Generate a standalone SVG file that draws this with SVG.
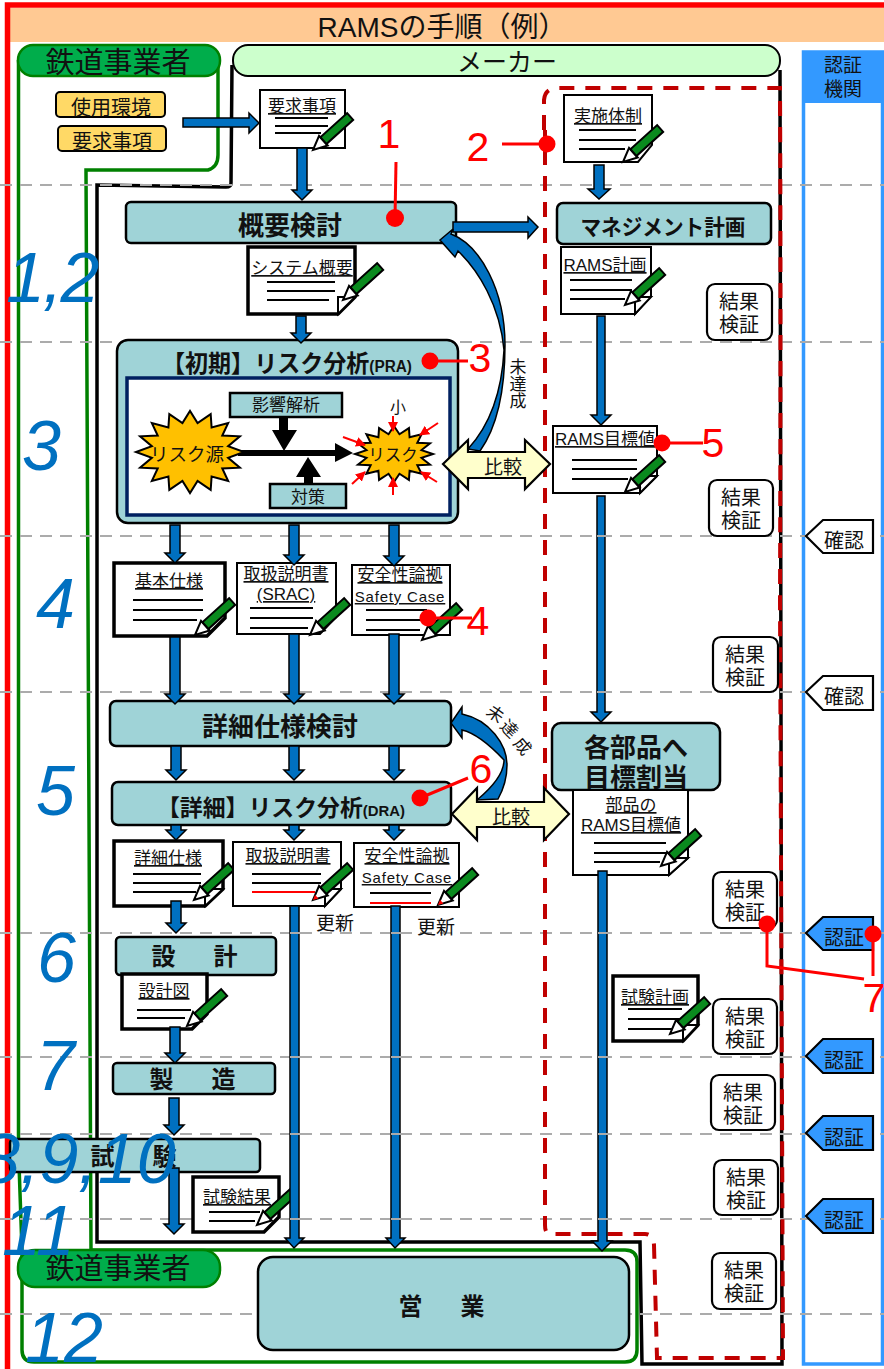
<svg xmlns="http://www.w3.org/2000/svg" width="884" height="1369" viewBox="0 0 884 1369">
<style>
text{font-family:"Liberation Sans","Noto Sans CJK JP",sans-serif;fill:#111;text-anchor:middle}
.box{fill:#9FD3D7;stroke:#000;stroke-width:2.5}
.doc{fill:#fff;stroke:#000;stroke-width:2}
.thick{stroke-width:3.5}
.ln{stroke:#000;stroke-width:1.8;fill:none}
.rl{stroke:#f00;stroke-width:2;fill:none}
.dt{font-size:17px;text-decoration:underline}
.sc{font-size:15px;letter-spacing:.8px}
.ar{fill:#0070C0;stroke:#000;stroke-width:1.5}
.b{font-weight:bold}
.res{fill:#fff;stroke:#000;stroke-width:2.2}
.rt{font-size:20px}
.tag{stroke:#000;stroke-width:2.2;fill:#fff}
.tagb{stroke:#000;stroke-width:2.2;fill:#3399FF}
.num{font-style:italic;fill:#0070C0;font-size:70px;text-anchor:start}
.red{fill:#f00;font-size:41px}
.redl{stroke:#f00;stroke-width:3;fill:none}
.cmp{fill:#FFFFCC;stroke:#000;stroke-width:2.2}
.star{fill:#FFC000;stroke:#000;stroke-width:2;vector-effect:non-scaling-stroke}
</style>
<defs>
<g id="pen"><polygon points="0,0 14,-6.500 14,6.500" fill="#fff" stroke="#000" stroke-width="2"/><rect x="14" y="-4.500" width="36" height="9" fill="#0A8A1E" stroke="#000" stroke-width="2"/></g>
<g id="penr"><polygon points="0,0 14,-6.500 14,6.500" fill="#fff" stroke="#000" stroke-width="2"/><polygon points="0,0 5,-2.500 5,2.500" fill="#f00"/><rect x="14" y="-4.500" width="36" height="9" fill="#0A8A1E" stroke="#000" stroke-width="2"/></g>
<marker id="rh" viewBox="0 0 10 10" refX="9" refY="5" markerWidth="5" markerHeight="5" orient="auto"><path d="M0 0L10 5L0 10Z" fill="#f00"/></marker>
<polygon id="st" class="star" points="1,0 .706,.14 .924,.383 .598,.4 .707,.707 .4,.598 .383,.924 .14,.706 0,1 -.14,.706 -.383,.924 -.4,.598 -.707,.707 -.598,.4 -.924,.383 -.706,.14 -1,0 -.706,-.14 -.924,-.383 -.598,-.4 -.707,-.707 -.4,-.598 -.383,-.924 -.14,-.706 0,-1 .14,-.706 .383,-.924 .4,-.598 .707,-.707 .598,-.4 .924,-.383 .706,-.14"/>
</defs>
<rect width="884" height="1369" fill="#fff"/>
<g id="frames">
<rect x="10" y="8" width="874" height="34" fill="#FFC993"/>
<path d="M7.5 1369V5H884" fill="none" stroke="#f00" stroke-width="5.5"/>
<text x="442" y="37" font-size="28px">RAMSの手順（例）</text>
<path d="M18.500 60V1150L22 1250V1350Q22 1362 34 1362H625Q637 1362 637 1350V1262Q637 1250 625 1250H91L86 170H208Q218 167 218 155V60" fill="none" stroke="#008000" stroke-width="3.500"/>
<path d="M232 65L231 183Q231 187 226 187L97 185V1242H640L642 1364H782L780 70" fill="none" stroke="#000" stroke-width="3.500"/>
<rect x="803.500" y="52" width="79" height="1312" fill="#fff" stroke="#3399FF" stroke-width="3.500"/>
<rect x="802" y="51" width="82" height="52" fill="#3399FF"/>
<text x="843" y="72" font-size="19px">認証</text><text x="843" y="96" font-size="19px">機関</text>
</g>
<g id="guides" fill="none" stroke="#ABABAB" stroke-width="2" stroke-dasharray="12 8">
<path d="M0 185H884M0 342H884M0 536H884M0 692H884M0 933H884M0 1057H884M0 1134H884M0 1219H884M0 1314H884"/>
</g>
<path id="dash-frame" d="M544 130V100Q545 88 558 88H780Q781 300 780 600L783 1358H657L654 1245Q653 1234 645 1234H550Q545 1234 545 1225V130" fill="none" stroke="#C00000" stroke-width="4" stroke-dasharray="15 11"/>

<g id="n-op-rail"><rect x="18" y="45" width="202" height="31" rx="15" fill="#00AD4B" stroke="#008000" stroke-width="2.500"/><text x="118" y="73" font-size="29px">鉄道事業者</text></g>
<g id="n-maker"><rect x="233" y="45" width="547" height="31" rx="15" fill="#CCFFCC" stroke="#000" stroke-width="2"/><text x="507" y="71" font-size="25px">メーカー</text></g>
<g id="n-env"><rect x="56" y="92" width="109" height="25" rx="4" fill="#FFD966" stroke="#000" stroke-width="2"/><text x="111" y="115" font-size="20px">使用環境</text></g>
<g id="n-req"><rect x="58" y="126" width="108" height="25" rx="4" fill="#FFD966" stroke="#000" stroke-width="2"/><text x="112" y="149" font-size="20px">要求事項</text></g>

<g id="n-overview"><rect class="box" x="126" y="202" width="330" height="41" rx="5"/><text class="b" x="290" y="235" font-size="26px">概要検討</text></g>
<g id="n-mgmt"><rect class="box" x="557" y="203" width="214" height="41" rx="6"/><text class="b" x="663" y="235" font-size="22px" textLength="165" lengthAdjust="spacingAndGlyphs">マネジメント計画</text></g>
<g id="n-pra"><rect class="box" x="117" y="340" width="341" height="183" rx="11"/>
<text class="b" x="287" y="372" font-size="24px" textLength="250" lengthAdjust="spacingAndGlyphs">【初期】リスク分析<tspan font-size="16px">(PRA)</tspan></text>
<rect x="127" y="378" width="323" height="137" fill="#fff" stroke="#002060" stroke-width="3.500"/>
<rect class="box" x="230" y="393" width="112" height="24"/><text x="286" y="411" font-size="17px">影響解析</text>
<rect class="box" x="270" y="484" width="76" height="24"/><text x="308" y="503" font-size="17px">対策</text>
<polygon points="279,417 288,417 288,430 297,430 284,451 272,430 279,430" fill="#000"/>
<polygon points="304,484 313,484 313,477 321,477 308,457 296,477 304,477" fill="#000"/>
<polygon points="238,450 335,450 335,443 353,453 335,462 335,456 238,456" fill="#000"/>
<use href="#st" transform="translate(190 452) scale(54 41)"/>
<use href="#st" transform="translate(394 454) scale(39 28)"/>
<text x="187" y="461" font-size="18.500px">リスク源</text><text x="393" y="461" font-size="16.500px">リスク</text>
<text x="398" y="413" font-size="16px">小</text>
<g class="rl"><path d="M393 416V431" marker-end="url(#rh)"/><path d="M438 423L420 435" marker-end="url(#rh)"/><path d="M343 437L365 445" marker-end="url(#rh)"/><path d="M352 484L365 472" marker-end="url(#rh)"/><path d="M393 495V478" marker-end="url(#rh)"/><path d="M437 482L421 472" marker-end="url(#rh)"/></g>
</g>
<g id="n-detail-spec"><rect class="box" x="110" y="701" width="341" height="45" rx="6"/><text class="b" x="280" y="736" font-size="26px">詳細仕様検討</text></g>
<g id="n-dra"><rect class="box" x="112" y="782" width="339" height="43" rx="6"/><text class="b" x="281" y="816" font-size="23px" textLength="248" lengthAdjust="spacingAndGlyphs">【詳細】リスク分析<tspan font-size="15px">(DRA)</tspan></text></g>
<g id="n-alloc"><rect class="box" x="552" y="723" width="168" height="67" rx="9"/><text class="b" x="636" y="757" font-size="26px">各部品へ</text><text class="b" x="636" y="787" font-size="26px">目標割当</text></g>
<g id="n-design"><rect class="box" x="116" y="937" width="160" height="38" rx="4"/><text class="b" x="198" y="965" font-size="24px" letter-spacing="7">設　計</text></g>
<g id="n-mfg"><rect class="box" x="113" y="1063" width="162" height="31" rx="4"/><text class="b" x="196" y="1088" font-size="24px" letter-spacing="7">製　造</text></g>
<g id="n-test"><rect class="box" x="10" y="1139" width="250" height="33" rx="4"/><text class="b" x="137" y="1165" font-size="24px" letter-spacing="7">試　験</text></g>
<g id="n-op2"><rect x="18" y="1250" width="202" height="37" rx="17" fill="#00AD4B" stroke="#008000" stroke-width="2.500"/><text x="118" y="1279" font-size="29px">鉄道事業者</text></g>
<g id="n-service"><rect class="box" x="258" y="1257" width="371" height="93" rx="15"/><text class="b" x="445" y="1315" font-size="24px" letter-spacing="7">営　業</text></g>

<g id="d-req"><path class="doc" d="M260 90H345V148H260Z"/><text class="dt" x="302" y="112">要求事項</text><path class="ln" d="M275 118H328M275 126H328M275 133H321"/><use href="#pen" transform="translate(313 150) rotate(-42)"/></g>
<g id="d-org"><path class="doc" d="M564 95H652V145L638 162H564Z"/><text class="dt" x="608" y="122">実施体制</text><path class="ln" d="M579 130H636M579 140H636M579 149H625"/><use href="#pen" transform="translate(623 162) rotate(-42)"/></g>
<g id="d-sys"><path class="doc thick" d="M248 247H355V297L338 314H248Z"/><path class="doc" d="M338 314V297H355Z"/><text class="dt" x="302" y="274">システム概要</text><path class="ln" d="M267 282H335M267 291H335M267 300H329"/><use href="#pen" transform="translate(343 300) rotate(-42)"/></g>
<g id="d-plan"><path class="doc" d="M561 247H651V296L635 314H561Z"/><path class="doc" d="M635 314V297H651Z"/><text class="dt" x="605" y="271">RAMS計画</text><path class="ln" d="M570 280H632M570 290H632M570 299H625"/><use href="#pen" transform="translate(625 305) rotate(-42)"/></g>
<g id="d-target"><path class="doc" d="M553 426H657V476L640 493H553Z"/><path class="doc" d="M640 493V476H657Z"/><text class="dt" x="605" y="445">RAMS目標値</text><path class="ln" d="M572 460H637M572 469H637M572 479H628"/><use href="#pen" transform="translate(625 492) rotate(-42)"/></g>
<g id="d-basic"><path class="doc thick" d="M114 563H225V618L207 636H114Z"/><text class="dt" x="169" y="587">基本仕様</text><path class="ln" d="M133 600H203M133 610H203M133 620H197"/><use href="#pen" transform="translate(195 635) rotate(-42)"/></g>
<g id="d-manual"><path class="doc" d="M237 563H336V617L320 634H237Z"/><text class="dt" x="286" y="580">取扱説明書</text><text class="dt" x="286" y="600">(SRAC)</text><path class="ln" d="M250 608H313M250 618H313M250 628H308"/><use href="#pen" transform="translate(310 635) rotate(-42)"/></g>
<g id="d-safety"><path class="doc" d="M352 565H450V635H352Z"/><text class="dt" x="400" y="581">安全性論拠</text><text class="dt sc" x="400" y="602">Safety Case</text><path class="ln" d="M366 610H427M366 620H427M366 630H420"/><use href="#pen" transform="translate(422 640) rotate(-42)"/></g>
<g id="d-dspec"><path class="doc thick" d="M114 841H223V889L205 906H114Z"/><path class="doc" d="M205 906V889H223Z"/><text class="dt" x="168" y="864">詳細仕様</text><path class="ln" d="M133 874H201M133 883H201M133 892H196"/><use href="#pen" transform="translate(194 900) rotate(-42)"/></g>
<g id="d-dmanual"><path class="doc" d="M233 842H341V889L325 906H233Z"/><path class="doc" d="M325 906V889H341Z"/><text class="dt" x="288" y="862">取扱説明書</text><path class="ln" d="M252 874H321M252 883H321"/><path class="rl" d="M252 892H315"/><use href="#penr" transform="translate(313 900) rotate(-42)"/></g>
<g id="d-dsafety"><path class="doc" d="M354 843H459V907H354Z"/><text class="dt" x="407" y="862">安全性論拠</text><text class="dt sc" x="407" y="883">Safety Case</text><path class="ln" d="M370 893H431"/><path class="rl" d="M370 903H431"/><use href="#penr" transform="translate(438 905) rotate(-42)"/></g>
<g id="d-part"><path class="doc" d="M573 790H688V858L669 875H573Z"/><path class="doc" d="M669 875V858H688Z"/><text class="dt" x="631" y="811">部品の</text><text class="dt" x="631" y="831">RAMS目標値</text><path class="ln" d="M594 843H666M594 853H666M594 862H660"/><use href="#pen" transform="translate(661 866) rotate(-42)"/></g>
<g id="d-testplan"><path class="doc thick" d="M613 976H698V1025L683 1041H613Z"/><path class="doc" d="M683 1041V1025H698Z"/><text class="dt" x="655" y="1003">試験計画</text><path class="ln" d="M628 1009H682M628 1019H682M628 1029H672"/><use href="#pen" transform="translate(670 1034) rotate(-42)"/></g>
<g id="d-drawing"><path class="doc thick" d="M122 974H207V1014L192 1029H122Z"/><text class="dt" x="164" y="997">設計図</text><path class="ln" d="M137 1010H191M137 1018H185"/><use href="#pen" transform="translate(187 1026) rotate(-42)"/></g>
<g id="d-testres"><path class="doc thick" d="M193 1177H279V1217L264 1232H193Z"/><text class="dt" x="237" y="1203">試験結果</text><path class="ln" d="M209 1212H260M209 1221H255"/><use href="#pen" transform="translate(257 1225) rotate(-42)"/></g>

<g id="n-verify">
<rect class="res" x="707" y="284" width="65" height="56" rx="8"/><text class="rt" x="739" y="309">結果</text><text class="rt" x="739" y="332">検証</text>
<rect class="res" x="709" y="480" width="64" height="56" rx="8"/><text class="rt" x="741" y="505">結果</text><text class="rt" x="741" y="528">検証</text>
<rect class="res" x="713" y="637" width="65" height="55" rx="8"/><text class="rt" x="745" y="662">結果</text><text class="rt" x="745" y="685">検証</text>
<rect class="res" x="713" y="872" width="64" height="56" rx="8"/><text class="rt" x="745" y="897">結果</text><text class="rt" x="745" y="920">検証</text>
<rect class="res" x="713" y="999" width="64" height="55" rx="8"/><text class="rt" x="745" y="1024">結果</text><text class="rt" x="745" y="1047">検証</text>
<rect class="res" x="711" y="1075" width="64" height="55" rx="8"/><text class="rt" x="743" y="1100">結果</text><text class="rt" x="743" y="1123">検証</text>
<rect class="res" x="714" y="1160" width="64" height="55" rx="8"/><text class="rt" x="746" y="1185">結果</text><text class="rt" x="746" y="1208">検証</text>
<rect class="res" x="712" y="1253" width="64" height="56" rx="8"/><text class="rt" x="744" y="1278">結果</text><text class="rt" x="744" y="1301">検証</text>
</g>
<g id="n-tags">
<path class="tag" d="M806 536L823 520H873V553H823Z"/><text class="rt" x="844" y="548">確認</text>
<path class="tag" d="M806 692L823 676H873V710H823Z"/><text class="rt" x="844" y="704">確認</text>
<path class="tagb" d="M806 933L823 917H873V950H823Z"/><text class="rt" x="844" y="945">認証</text>
<path class="tagb" d="M806 1056L823 1039H873V1073H823Z"/><text class="rt" x="844" y="1068">認証</text>
<path class="tagb" d="M806 1133L823 1116H873V1150H823Z"/><text class="rt" x="844" y="1145">認証</text>
<path class="tagb" d="M806 1216L823 1199H873V1233H823Z"/><text class="rt" x="844" y="1228">認証</text>
</g>

<g id="connectors">
<polygon class="ar" points="183,118 249,118 249,113 259,123 249,133 249,127 183,127"/>
<polygon class="ar" points="453,222 528,222 528,217 538,227 528,238 528,232 453,232"/>
<polygon class="ar" points="297,148 307,148 307,190 312,190 302,200 292,190 297,190"/>
<polygon class="ar" points="296,316 306,316 306,333 311,333 301,343 291,333 296,333"/>
<polygon class="ar" points="594,165 604,165 604,189 610,189 599,199 588,189 594,189"/>
<polygon class="ar" points="597,316 605,316 605,415 611,415 601,425 591,415 597,415"/>
<polygon class="ar" points="597,496 605,496 605,712 611,712 601,722 591,712 597,712"/>
<polygon class="ar" points="170,525 180,525 180,553 185,553 175,563 165,553 170,553"/>
<polygon class="ar" points="289,525 299,525 299,555 304,555 294,565 284,555 289,555"/>
<polygon class="ar" points="389,525 399,525 399,556 404,556 394,566 384,556 389,556"/>
<polygon class="ar" points="170,637 180,637 180,694 185,694 175,704 165,694 170,694"/>
<polygon class="ar" points="289,634 299,634 299,694 304,694 294,704 284,694 289,694"/>
<polygon class="ar" points="389,634 399,634 399,694 404,694 394,704 384,694 389,694"/>
<polygon class="ar" points="171,746 181,746 181,770 186,770 176,780 166,770 171,770"/>
<polygon class="ar" points="289,746 299,746 299,770 304,770 294,780 284,770 289,770"/>
<polygon class="ar" points="389,746 399,746 399,770 404,770 394,780 384,770 389,770"/>
<polygon class="ar" points="171,825 181,825 181,830 186,830 176,840 166,830 171,830"/>
<polygon class="ar" points="289,825 299,825 299,830 304,830 294,840 284,830 289,830"/>
<polygon class="ar" points="389,825 399,825 399,830 404,830 394,840 384,830 389,830"/>
<polygon class="ar" points="171,901 181,901 181,923 186,923 176,933 166,923 171,923"/>
<polygon class="ar" points="290,906 299,906 299,1238 304,1238 294,1248 285,1238 290,1238"/>
<polygon class="ar" points="391,906 400,906 400,1238 405,1238 395,1248 386,1238 391,1238"/>
<polygon class="ar" points="598,871 607,871 607,1241 612,1241 602,1251 592,1241 598,1241"/>
<polygon class="ar" points="170,1027 180,1027 180,1053 185,1053 175,1063 165,1053 170,1053"/>
<polygon class="ar" points="169,1098 179,1098 179,1125 184,1125 174,1135 164,1125 169,1125"/>
<polygon class="ar" points="169,1168 179,1168 179,1224 184,1224 174,1234 164,1224 169,1224"/>
<path class="ar" d="M440 240L453 229L451 234C480 245 505 290 505 345C505 395 495 430 480 451L468 449C490 425 502 390 504 350C500 305 478 270 458 251L455 257Z"/>
<path class="ar" d="M451 723L462 707L462 714C490 720 507 745 507 765C507 780 503 790 498 799L477 800C495 785 504 772 504 760C488 743 475 733 462 730L462 738Z"/>
<path fill="none" stroke="#ABABAB" stroke-width="2" d="M290 933h10M391 933h10M598 933h10M290 1057h10M391 1057h10M598 1057h10M290 1134h10M391 1134h10M598 1134h10M290 1219h10M391 1219h10M598 1219h10M597 536h9M597 692h9"/>
<g id="cmp1"><path class="cmp" d="M443 464L468 440V452H525V440L550 464L525 489V478H468V489Z"/><text x="503" y="474" font-size="19px">比較</text></g>
<g id="cmp2"><path class="cmp" d="M452 814L477 788V802H544V788L569 814L544 840V827H477V840Z"/><text x="511" y="824" font-size="19px">比較</text></g>
</g>

<g id="labels">
<text x="518" y="373" font-size="17px">未</text><text x="518" y="390" font-size="17px">達</text><text x="518" y="407" font-size="17px">成</text>
<text font-size="17px" transform="translate(492 719) rotate(35)">未</text><text font-size="17px" transform="translate(505 733) rotate(45)">達</text><text font-size="17px" transform="translate(518 750) rotate(50)">成</text>
<text x="335" y="930" font-size="19px">更新</text><text x="436" y="934" font-size="19px">更新</text>
</g>
<g id="steps">
<text class="num" x="6" y="302" letter-spacing="-2">1,2</text><text class="num" x="22" y="470">3</text><text class="num" x="36" y="628">4</text><text class="num" x="36" y="815">5</text><text class="num" x="37" y="982">6</text><text class="num" x="36" y="1090">7</text><text class="num" x="-19" y="1183">8,9,10</text><text class="num" x="2" y="1255">11</text><text class="num" x="25" y="1362">12</text>
</g>
<g id="callouts">
<text class="red" x="389" y="148">1</text><path class="redl" d="M396 162L395 218"/><circle cx="395" cy="218" r="9" fill="#f00"/>
<text class="red" x="478" y="161">2</text><path class="redl" d="M502 144H546"/><circle cx="547" cy="144" r="8.500" fill="#f00"/>
<text class="red" x="480" y="372">3</text><path class="redl" d="M430 361H468"/><circle cx="430" cy="361" r="8.500" fill="#f00"/>
<text class="red" x="478" y="635">4</text><path class="redl" d="M428 618H472"/><circle cx="428" cy="618" r="8.500" fill="#f00"/>
<text class="red" x="713" y="457">5</text><path class="redl" d="M662 443H703"/><circle cx="662" cy="443" r="8.500" fill="#f00"/>
<text class="red" x="481" y="783">6</text><path class="redl" d="M420 798L468 778"/><circle cx="420" cy="798" r="8.500" fill="#f00"/>
<text class="red" x="874" y="1012">7</text><path class="redl" stroke-width="4" d="M767 924V966L864 979M873 934V976"/><circle cx="767" cy="924" r="8.500" fill="#f00"/><circle cx="873" cy="934" r="8.500" fill="#f00"/>
</g>
</svg>
